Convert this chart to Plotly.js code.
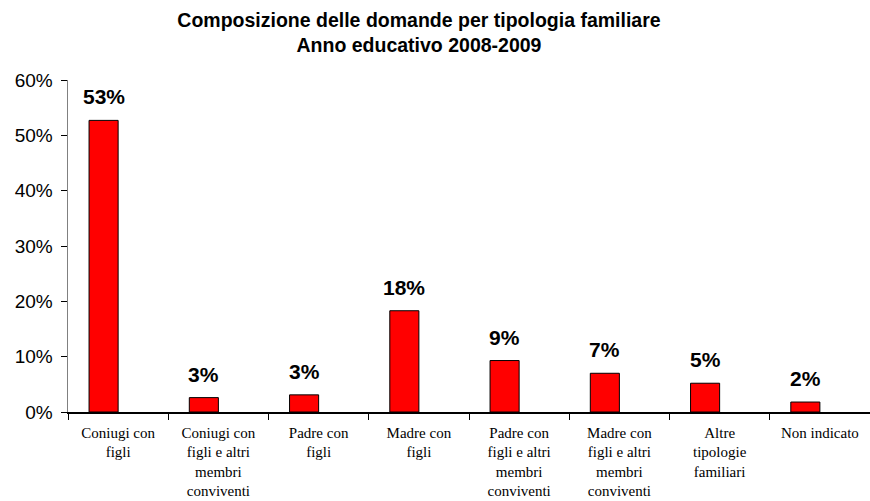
<!DOCTYPE html>
<html>
<head>
<meta charset="utf-8">
<script src="https://cdn.plot.ly/plotly-3.0.1.min.js"></script>
<style>html,body{margin:0;padding:0;background:#fff;}#chart{width:870px;height:501px;}</style>
</head>
<body>
<div id="chart"></div>
<script>
const categories = [
  "Coniugi con<br>figli",
  "Coniugi con<br>figli e altri<br>membri<br>conviventi",
  "Padre con<br>figli",
  "Madre con<br>figli",
  "Padre con<br>figli e altri<br>membri<br>conviventi",
  "Madre con<br>figli e altri<br>membri<br>conviventi",
  "Altre<br>tipologie<br>familiari",
  "Non indicato"
];
const values = [0.527, 0.026, 0.031, 0.183, 0.093, 0.070, 0.052, 0.018];
const labels = ["53%", "3%", "3%", "18%", "9%", "7%", "5%", "2%"];
const yTickVals = [0, 0.1, 0.2, 0.3, 0.4, 0.5, 0.6];
const yTickText = ["0%", "10%", "20%", "30%", "40%", "50%", "60%"];

const trace = {
  type: "bar",
  x: categories,
  y: values,
  width: 0.29,
  offset: -0.29,
  marker: {color: "#FF0000", line: {color: "#000000", width: 1}},
  hoverinfo: "none"
};

const annotations = categories.map((c, i) => ({
  x: c, y: values[i], xref: "x", yref: "y",
  text: "<b>" + labels[i] + "</b>",
  showarrow: false, xanchor: "center", yanchor: "bottom",
  xshift: -14.5, yshift: 10,
  font: {family: "Liberation Sans, Arial, sans-serif", size: 21, color: "#000"}
}));

const layout = {
  width: 870, height: 501,
  margin: {l: 68, r: 0, t: 80, b: 89},
  paper_bgcolor: "#ffffff", plot_bgcolor: "#ffffff",
  showlegend: false,
  title: {
    text: "<b>Composizione delle domande per tipologia familiare<br>Anno educativo 2008-2009</b>",
    x: 0.4816, xanchor: "center", y: 0.946, yanchor: "top",
    font: {family: "Liberation Sans, Arial, sans-serif", size: 19.5, color: "#000"}
  },
  xaxis: {
    type: "category",
    tickson: "boundaries",
    ticks: "outside", ticklen: 6, tickcolor: "#000", tickwidth: 1,
    showline: true, linecolor: "#000", linewidth: 1.5,
    showgrid: false, zeroline: false,
    ticklabelstandoff: 6,
    tickfont: {family: "Liberation Serif, Times New Roman, serif", size: 15, color: "#000"},
    fixedrange: true
  },
  yaxis: {
    range: [0, 0.6],
    tickvals: yTickVals, ticktext: yTickText,
    ticks: "outside", ticklen: 6, tickcolor: "#000", tickwidth: 1,
    showline: true, linecolor: "#808080", linewidth: 1.5,
    showgrid: false, zeroline: false,
    ticklabelstandoff: 4,
    tickfont: {family: "Liberation Sans, Arial, sans-serif", size: 19, color: "#000"},
    fixedrange: true
  },
  annotations: annotations
};

Plotly.newPlot("chart", [trace], layout, {staticPlot: true, displayModeBar: false});
</script>
</body>
</html>
